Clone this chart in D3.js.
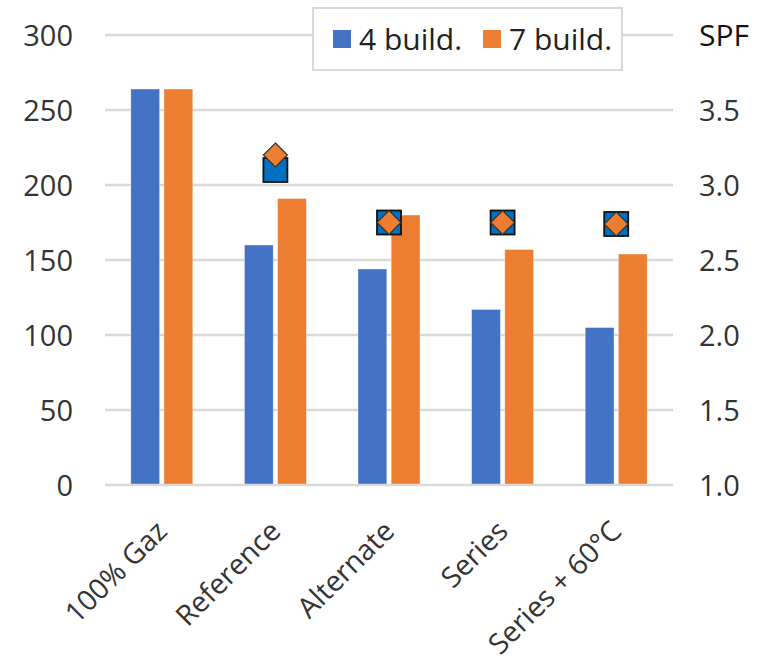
<!DOCTYPE html>
<html>
<head>
<meta charset="utf-8">
<script src="https://cdn.jsdelivr.net/npm/d3@7"></script>
<style>
  html, body { margin: 0; padding: 0; background: #fff; }
  svg { display: block; font-family: "Open Sans", "Noto Sans", sans-serif; }
</style>
</head>
<body>
<svg id="chart" width="757" height="661"></svg>
<script>
const categories = ["100% Gaz", "Reference", "Alternate", "Series", "Series + 60°C"];
const build4 = [264, 160, 144, 117, 105];
const build7 = [264, 191, 180, 157, 154];
const spf4 = [null, 3.1, 2.75, 2.75, 2.74];
const spf7 = [null, 3.2, 2.75, 2.75, 2.74];
const leftTicks = [0, 50, 100, 150, 200, 250, 300];
const rightTicks = [1.0, 1.5, 2.0, 2.5, 3.0, 3.5];
const seriesNames = ["4 build.", "7 build."];

const svg = d3.select("#chart");
const mLeft = 105, mRight = 673, mTop = 35, mBottom = 485;

const x = d3.scaleBand().domain(categories).range([mLeft, mRight]).paddingInner(0).paddingOuter(0);
const y = d3.scaleLinear().domain([0, 300]).range([mBottom, mTop]);
const y2 = d3.scaleLinear().domain([1.0, 4.0]).range([mBottom, mTop]);
const sub = d3.scaleBand().domain([0, 1]).range([0, 62]).paddingInner(0.13);
const barOffset = x.bandwidth() / 2 - 31;

const textColor = "#333";
const gridColor = "#D9D9D9";

// gridlines
svg.append("g").selectAll("line").data(leftTicks.slice(1)).join("line")
  .attr("x1", mLeft).attr("x2", mRight)
  .attr("y1", d => y(d)).attr("y2", d => y(d))
  .attr("stroke", gridColor).attr("stroke-width", 2.5);

// bars
const colors = ["#4472C4", "#ED7D31"];
[build4, build7].forEach((vals, si) => {
  svg.append("g").selectAll("rect").data(vals).join("rect")
    .attr("x", (d, i) => x(categories[i]) + barOffset + sub(si))
    .attr("width", sub.bandwidth())
    .attr("y", d => y(d))
    .attr("height", d => y(0) - y(d))
    .attr("fill", colors[si])
    .attr("stroke", "#fff").attr("stroke-opacity", 0.5).attr("stroke-width", 0.8);
});

// x axis line
svg.append("line").attr("x1", mLeft).attr("x2", mRight)
  .attr("y1", mBottom).attr("y2", mBottom)
  .attr("stroke", gridColor).attr("stroke-width", 2.5);

// left axis
const leftAxis = d3.axisLeft(y).tickValues(leftTicks).tickSize(0).tickPadding(0);
const gl = svg.append("g").attr("transform", "translate(73,0)").call(leftAxis);
gl.select(".domain").remove();
gl.selectAll("text").attr("font-size", 29).attr("fill", textColor)
  .attr("font-family", "'Open Sans', sans-serif").attr("dy", "0.36em");

// right axis
const rightAxis = d3.axisRight(y2).tickValues(rightTicks).tickSize(0).tickPadding(0).tickFormat(d3.format(".1f"));
const gr = svg.append("g").attr("transform", "translate(699,0)").call(rightAxis);
gr.select(".domain").remove();
gr.selectAll("text").attr("font-size", 29).attr("fill", textColor)
  .attr("font-family", "'Open Sans', sans-serif").attr("dy", "0.36em");

svg.append("text").attr("x", 699).attr("y", y2(4.0)).attr("dy", "0.36em")
  .attr("font-size", 30).attr("fill", "#111").text("SPF");

// x labels
svg.append("g").selectAll("text").data(categories).join("text")
  .attr("transform", d => `translate(${x(d) + x.bandwidth() / 2 + 7},533) rotate(-45)`)
  .attr("text-anchor", "end")
  .attr("font-size", 28.5).attr("fill", textColor)
  .text(d => d);

// SPF markers
const sq = 24;
const markerData = categories.map((c, i) => ({ c, s4: spf4[i], s7: spf7[i] })).filter(d => d.s4 != null);
const mg = svg.append("g");
mg.selectAll("rect").data(markerData).join("rect")
  .attr("x", d => x(d.c) + x.bandwidth() / 2 - sq / 2)
  .attr("y", d => y2(d.s4) - sq / 2)
  .attr("width", sq).attr("height", sq)
  .attr("fill", "#0070C0").attr("stroke", "#111").attr("stroke-width", 1.8);
mg.selectAll("path").data(markerData).join("path")
  .attr("d", d => {
    const cx = x(d.c) + x.bandwidth() / 2, cy = y2(d.s7), r = sq / 2;
    return `M${cx},${cy - r}L${cx + r},${cy}L${cx},${cy + r}L${cx - r},${cy}Z`;
  })
  .attr("fill", "#ED7D31").attr("stroke", "#333").attr("stroke-width", 1.2);

// legend
const lg = svg.append("g");
lg.append("rect").attr("x", 313).attr("y", 8).attr("width", 309).attr("height", 62)
  .attr("fill", "#fff").attr("stroke", gridColor).attr("stroke-width", 2);
const legendX = [333, 483];
seriesNames.forEach((n, i) => {
  lg.append("rect").attr("x", legendX[i]).attr("y", 30).attr("width", 18).attr("height", 18).attr("fill", colors[i]);
  lg.append("text").attr("x", legendX[i] + 26).attr("y", 39).attr("dy", "0.36em")
    .attr("font-size", 30).attr("fill", "#222").text(n);
});
</script>
</body>
</html>
